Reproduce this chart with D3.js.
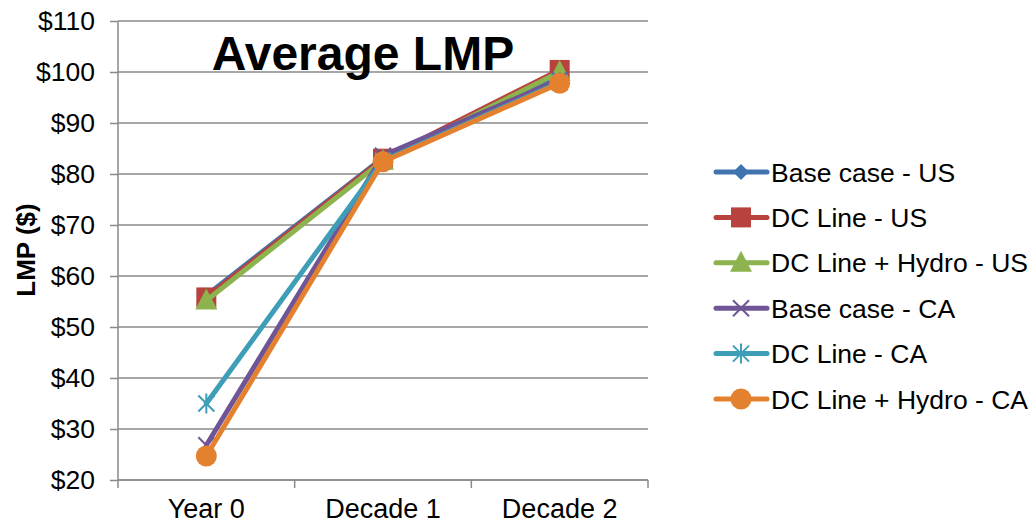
<!DOCTYPE html>
<html><head><meta charset="utf-8">
<script src="https://cdn.jsdelivr.net/npm/d3@7"></script>
<style>body{margin:0;background:#fff;}svg{display:block;font-family:"Liberation Sans",Arial,sans-serif;}</style>
</head><body><svg id="c" width="1032" height="523"></svg>
<script>
const categories = ["Year 0", "Decade 1", "Decade 2"];
const seriesNames = ["Base case - US","DC Line - US","DC Line + Hydro - US","Base case - CA","DC Line - CA","DC Line + Hydro - CA"];
const baseUS = [56.2, 83.2, 99.0];
const dcUS = [55.8, 83.0, 100.4];
const hydroUS = [55.2, 82.6, 100.0];
const baseCA = [26.8, 83.6, 98.5];
const dcCA = [35.0, 82.6, 98.0];
const hydroCA = [24.7, 82.4, 97.8];
const yTicks = [20,30,40,50,60,70,80,90,100,110];
const colors = ["#4174AE","#B8423E","#8DB34F","#705596","#3E9EB8","#E3812F"];
const markers = ["diamond","square","triangle","x","star","circle"];
const values = [baseUS, dcUS, hydroUS, baseCA, dcCA, hydroCA];

const svg = d3.select("#c");
const L=118, R=648, T=21, B=480;
const x = d3.scaleBand().domain(categories).range([L,R]);
const y = d3.scaleLinear().domain([20,110]).range([B,T]);
const grid = "#8a8a8a";
const FS = 26.5;

svg.append("g").selectAll("line").data(yTicks).join("line")
  .attr("x1",L).attr("x2",R).attr("y1",d=>y(d)).attr("y2",d=>y(d))
  .attr("stroke",grid).attr("stroke-width",1.5);

const ya = svg.append("g").attr("transform",`translate(${L},0)`)
  .call(d3.axisLeft(y).tickValues(yTicks).tickFormat(d=>"$"+d).tickSize(8).tickPadding(15));
ya.selectAll("path,line").attr("stroke",grid).attr("stroke-width",1.5);
ya.selectAll("text").attr("font-size",FS).attr("fill","#000").attr("font-family","Liberation Sans, Arial, sans-serif");
ya.select("path").attr("d",`M0,${T}V${B}`);

const xa = svg.append("g").attr("transform",`translate(0,${B})`)
  .call(d3.axisBottom(x).tickSize(0).tickPadding(19));
xa.selectAll("path").attr("stroke",grid).attr("stroke-width",1.5).attr("d",`M${L},0H${R}`);
xa.selectAll("text").attr("font-size",FS+0.5).attr("fill","#000").attr("font-family","Liberation Sans, Arial, sans-serif");
const bounds = categories.map(c=>x(c)).concat([R]);
svg.append("g").selectAll("line").data(bounds).join("line")
  .attr("x1",d=>d).attr("x2",d=>d).attr("y1",B).attr("y2",B+8)
  .attr("stroke",grid).attr("stroke-width",1.5);

svg.append("text").attr("transform","translate(35,250) rotate(-90)")
  .attr("text-anchor","middle").attr("font-weight","bold").attr("font-size",26).text("LMP ($)");

svg.append("text").attr("x",363).attr("y",70).attr("text-anchor","middle")
  .attr("font-weight","bold").attr("font-size",48).text("Average LMP");

function drawMarker(g, type, color){
  if(type==="diamond") g.append("path").attr("d","M0,-8L8,0L0,8L-8,0Z").attr("fill",color);
  else if(type==="square") g.append("rect").attr("x",-10).attr("y",-10).attr("width",20).attr("height",20).attr("fill",color);
  else if(type==="triangle") g.append("path").attr("d","M0,-12L11,9L-11,9Z").attr("fill",color);
  else if(type==="circle") g.append("circle").attr("r",10.5).attr("fill",color);
  else if(type==="x") g.append("path").attr("d","M-8,-8L8,8M-8,8L8,-8").attr("stroke",color).attr("stroke-width",2);
  else if(type==="star") g.append("path").attr("d","M-8,-8L8,8M-8,8L8,-8M0,-10V10").attr("stroke",color).attr("stroke-width",2);
}

const line = d3.line().x((d,i)=>x(categories[i])+x.bandwidth()/2).y(d=>y(d));
values.forEach((vals,s)=>{
  const g = svg.append("g");
  g.append("path").attr("d",line(vals)).attr("fill","none").attr("stroke",colors[s])
    .attr("stroke-width",5).attr("stroke-linejoin","round").attr("stroke-linecap","round");
  vals.forEach((v,i)=>{
    const m = g.append("g").attr("transform",`translate(${x(categories[i])+x.bandwidth()/2},${y(v)})`);
    drawMarker(m, markers[s], colors[s]);
  });
});

const lg = svg.append("g");
seriesNames.forEach((n,s)=>{
  const yy = 172 + s*45.4;
  const g = lg.append("g").attr("transform",`translate(0,${yy})`);
  g.append("line").attr("x1",716).attr("x2",767).attr("stroke",colors[s]).attr("stroke-width",5).attr("stroke-linecap","round");
  const m = g.append("g").attr("transform","translate(741,0)");
  drawMarker(m, markers[s], colors[s]);
  g.append("text").attr("x",771).attr("y",9.5).attr("font-size",FS).text(n);
});
</script></body></html>
